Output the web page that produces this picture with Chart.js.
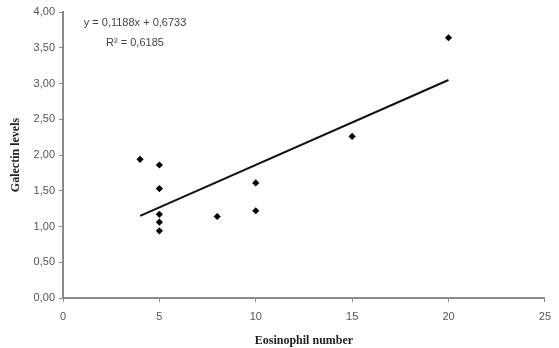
<!DOCTYPE html>
<html>
<head>
<meta charset="utf-8">
<script src="https://cdn.jsdelivr.net/npm/chart.js@4.4.0/dist/chart.umd.min.js"></script>
<style>
  html, body { margin: 0; padding: 0; background: #fff; }
  #wrap { width: 559px; height: 348px; }
</style>
</head>
<body>
<div id="wrap"><canvas id="scatterChart"></canvas></div>
<script>
// data
const eosinophils = [4, 5, 5, 5, 5, 5, 8, 10, 10, 15, 20];
const galectin = [1.94, 1.86, 1.53, 1.17, 1.06, 0.94, 1.14, 1.61, 1.22, 2.26, 3.64];
const slope = 0.1188;
const intercept = 0.6733;
const rSquared = 0.6185;
const xTicks = [0, 5, 10, 15, 20, 25];
const yTicks = [0, 0.5, 1, 1.5, 2, 2.5, 3, 3.5, 4];

function comma(v, d) {
  return v.toFixed(d).replace('.', ',');
}

const points = eosinophils.map(function (x, i) { return { x: x, y: galectin[i] }; });
const xMin = Math.min.apply(null, eosinophils);
const xMax = Math.max.apply(null, eosinophils);
const trend = [
  { x: xMin, y: slope * xMin + intercept },
  { x: xMax, y: slope * xMax + intercept }
];

const equationLabel = {
  id: 'equationLabel',
  afterDraw: function (chart) {
    const ctx = chart.ctx;
    ctx.save();
    ctx.fillStyle = '#444';
    ctx.font = '11px "Liberation Sans", Arial, sans-serif';
    ctx.textAlign = 'center';
    ctx.textBaseline = 'middle';
    ctx.fillText('y = ' + comma(slope, 4) + 'x + ' + comma(intercept, 4), 135, 23);
    ctx.fillText('R\u00B2 = ' + comma(rSquared, 4), 135, 43);
    ctx.restore();
  }
};

const ctx = document.getElementById('scatterChart').getContext('2d');

new Chart(ctx, {
  type: 'scatter',
  data: {
    datasets: [{
      label: 'Galectin',
      data: points,
      pointStyle: 'rectRot',
      pointRadius: 3.6,
      backgroundColor: '#000',
      borderColor: '#000',
      borderWidth: 0
    }, {
      label: 'Trend',
      type: 'line',
      data: trend,
      borderColor: '#111',
      borderWidth: 2,
      pointRadius: 0,
      fill: false
    }]
  },
  plugins: [equationLabel],
  options: {
    responsive: true,
    maintainAspectRatio: false,
    animation: false,
    layout: {
      padding: { top: 12, right: 13, left: 0, bottom: 0 }
    },
    scales: {
      x: {
        type: 'linear',
        min: 0,
        max: 25,
        afterBuildTicks: function (scale) {
          scale.ticks = xTicks.map(function (v) { return { value: v }; });
        },
        afterFit: function (scale) { scale.height = 50; },
        border: { display: true, color: '#8a8a8a', width: 2 },
        grid: { drawOnChartArea: false, drawTicks: true, tickLength: 4, color: '#8a8a8a' },
        ticks: {
          color: '#555',
          padding: 8,
          font: { family: '"Liberation Sans", Arial, sans-serif', size: 11 },
          callback: function (v) { return String(v); }
        },
        title: {
          display: true,
          text: 'Eosinophil number',
          color: '#222',
          padding: { top: 4, bottom: 0 },
          font: { family: '"Liberation Serif", "Times New Roman", serif', size: 12, weight: 'bold' }
        }
      },
      y: {
        min: 0,
        max: 4,
        afterBuildTicks: function (scale) {
          scale.ticks = yTicks.map(function (v) { return { value: v }; });
        },
        afterFit: function (scale) { scale.width = 63; },
        border: { display: true, color: '#8a8a8a', width: 2 },
        grid: { drawOnChartArea: false, drawTicks: true, tickLength: 4, color: '#8a8a8a' },
        ticks: {
          color: '#555',
          padding: 4,
          font: { family: '"Liberation Sans", Arial, sans-serif', size: 11 },
          callback: function (v) { return comma(v, 2); }
        },
        title: {
          display: true,
          text: 'Galectin levels',
          color: '#222',
          padding: { top: 9, bottom: 2 },
          font: { family: '"Liberation Serif", "Times New Roman", serif', size: 12, weight: 'bold' }
        }
      }
    },
    plugins: {
      legend: { display: false },
      tooltip: { enabled: false }
    }
  }
});
</script>
</body>
</html>
